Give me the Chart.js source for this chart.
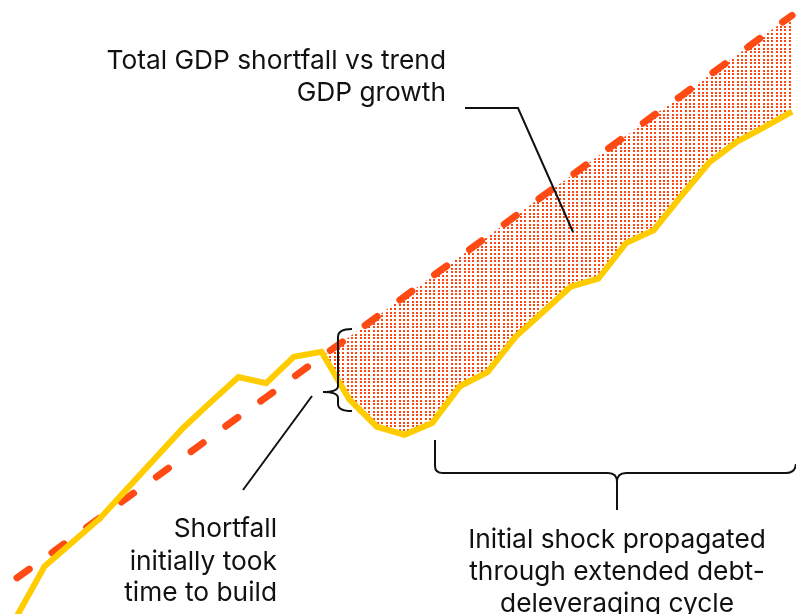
<!DOCTYPE html>
<html>
<head>
<meta charset="utf-8">
<script src="https://cdn.jsdelivr.net/npm/chart.js@4.4.1/dist/chart.umd.min.js"></script>
<style>
html,body{margin:0;padding:0;background:#fff;overflow:hidden}
canvas{display:block}
</style>
</head>
<body>
<canvas id="c" width="796" height="614"></canvas>
<script>
// Quarter index along the horizontal axis
const periods = [0,1,2,3,4,5,6,7,8,9,10,11,12,13,14,15,16,17,18,19,20,21,22,23,24,25,26,27,28];
// Actual GDP (index units)
const actualGdp = [-0.3,7.8,11.7,15.6,20.5,25.4,30.3,34.5,38.6,37.6,41.9,42.7,35.0,30.5,29.2,31.1,37.1,39.4,45.1,49.2,53.3,54.6,60.4,62.5,68.1,73.5,76.9,79.3,81.8];
// Trend GDP growth path (index units)
const trendGdp = [5.9,9.1,12.4,15.7,19.0,22.2,25.5,28.8,32.1,35.3,38.6,41.9,45.1,48.4,51.7,55.0,58.2,61.5,64.8,68.1,71.3,74.6,77.9,81.2,84.4,87.7,91.0,94.3,97.5];
// Period at which the shortfall starts
const shortfallStart = 11;

const labelTop = ["Total GDP shortfall vs trend", "GDP growth"];
const labelLeft = ["Shortfall", "initially took", "time to build"];
const labelBottom = ["Initial shock propagated", "through extended debt-", "deleveraging cycle"];

const canvas = document.getElementById('c');
const mainCtx = canvas.getContext('2d');

function dotPattern() {
  const t = document.createElement('canvas');
  t.width = 13; t.height = 11;
  const g = t.getContext('2d');
  g.fillStyle = '#ff4510';
  [0, 4, 9].forEach(x => [0, 4, 7].forEach(y => g.fillRect(x, y, 2, 2)));
  return mainCtx.createPattern(t, 'repeat');
}
const pattern = dotPattern();

const toPoints = arr => arr.map((v, i) => ({ x: periods[i], y: v }));
const shortfall = trendGdp.map((v, i) => (i >= shortfallStart ? v : null));

const annot = {
  id: 'annot',
  afterDatasetsDraw(chart) {
    const ctx = chart.ctx;
    ctx.save();
    ctx.strokeStyle = '#111';
    ctx.lineWidth = 2;
    ctx.lineJoin = 'miter';
    ctx.lineCap = 'butt';

    // leader for top label
    ctx.beginPath();
    ctx.moveTo(465, 108);
    ctx.lineTo(518, 108);
    ctx.lineTo(573, 232);
    ctx.stroke();

    // leader for left label
    ctx.beginPath();
    ctx.moveTo(243, 490);
    ctx.lineTo(312, 396);
    ctx.stroke();

    // vertical curly bracket
    ctx.beginPath();
    ctx.moveTo(352, 329);
    ctx.quadraticCurveTo(338, 329, 338, 337);
    ctx.lineTo(338, 386);
    ctx.quadraticCurveTo(338, 392, 323, 392);
    ctx.quadraticCurveTo(338, 392, 338, 398);
    ctx.lineTo(338, 404);
    ctx.quadraticCurveTo(338, 411, 352, 411);
    ctx.stroke();

    // horizontal curly bracket
    ctx.beginPath();
    ctx.moveTo(435, 440);
    ctx.lineTo(435, 466);
    ctx.quadraticCurveTo(435, 473, 443, 473);
    ctx.lineTo(608, 473);
    ctx.quadraticCurveTo(617, 473, 617, 482);
    ctx.lineTo(617, 510);
    ctx.moveTo(617, 482);
    ctx.quadraticCurveTo(617, 473, 626, 473);
    ctx.lineTo(786, 473);
    ctx.quadraticCurveTo(795, 473, 796, 464);
    ctx.stroke();

    // texts
    ctx.fillStyle = '#111';
    ctx.font = '26.3px Inter';
    ctx.textBaseline = 'alphabetic';
    ctx.textAlign = 'right';
    ctx.fillText(labelTop[0], 446, 69);
    ctx.fillText(labelTop[1], 446, 101);
    ctx.fillText(labelLeft[0], 277, 537);
    ctx.fillText(labelLeft[1], 277, 570);
    ctx.fillText(labelLeft[2], 277, 601);
    ctx.textAlign = 'center';
    ctx.fillText(labelBottom[0], 617, 548);
    ctx.fillText(labelBottom[1], 617, 580);
    ctx.fillText(labelBottom[2], 617, 612);
    ctx.restore();
  }
};

new Chart(canvas, {
  type: 'line',
  data: {
    datasets: [
      {
        label: 'Actual GDP',
        data: toPoints(actualGdp),
        borderColor: '#ffcc00',
        borderWidth: 6,
        pointRadius: 0,
        tension: 0,
        fill: false
      },
      {
        label: 'Trend GDP',
        data: toPoints(trendGdp),
        borderColor: '#ff4a14',
        borderWidth: 7,
        borderDash: [15, 28],
        borderCapStyle: 'round',
        pointRadius: 0,
        tension: 0,
        fill: false
      },
      {
        label: 'Shortfall',
        data: toPoints(shortfall),
        borderColor: 'rgba(0,0,0,0)',
        borderWidth: 1,
        pointRadius: 0,
        tension: 0,
        backgroundColor: pattern,
        fill: { target: 0, above: pattern, below: 'rgba(0,0,0,0)' }
      }
    ]
  },
  options: {
    responsive: false,
    animation: false,
    layout: { padding: 0 },
    plugins: { legend: { display: false }, tooltip: { enabled: false } },
    scales: {
      x: { type: 'linear', display: false, min: -0.614, max: 28.143 },
      y: { display: false, min: 0, max: 100 }
    }
  },
  plugins: [annot]
});
</script>
</body>
</html>
